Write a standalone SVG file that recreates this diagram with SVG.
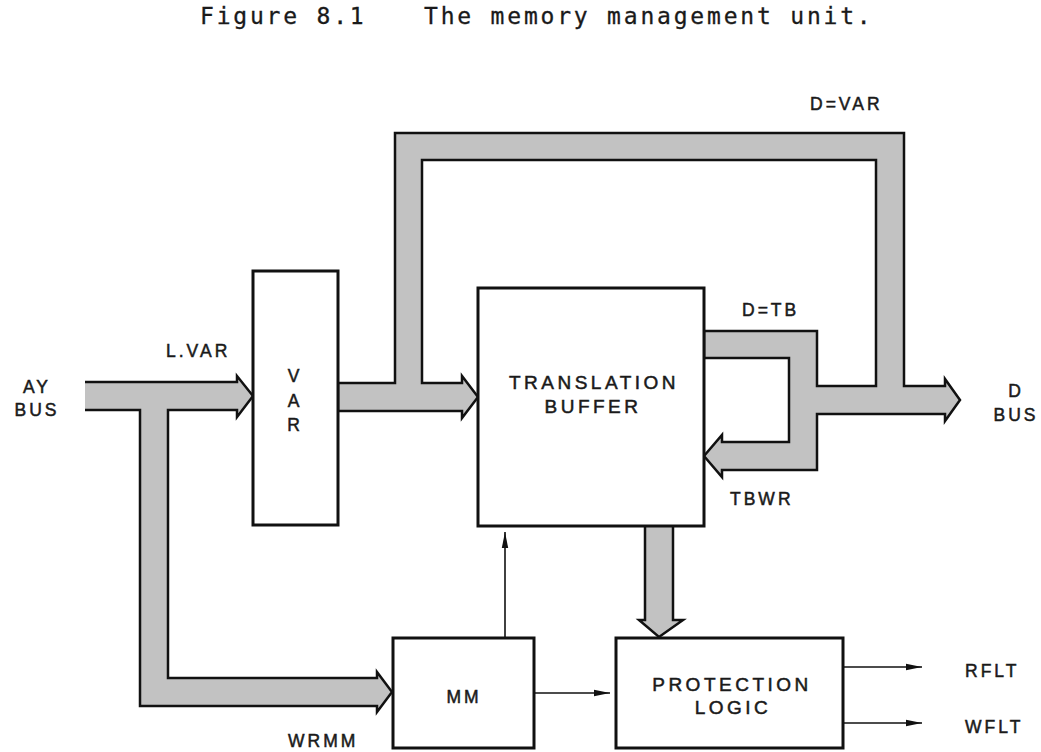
<svg xmlns="http://www.w3.org/2000/svg" width="1041" height="752" viewBox="0 0 1041 752">
<defs>
<style>
.box{fill:#fff;stroke:#111;stroke-width:3}
.bus{fill:#c2c2c2;stroke:#111;stroke-width:2.5;stroke-linejoin:miter}
.thin{fill:none;stroke:#111;stroke-width:1.6}
.lbl{font-family:"Liberation Sans",Arial,sans-serif;font-size:17.5px;letter-spacing:3px;fill:#1a1a1a;stroke:#1a1a1a;stroke-width:0.5}
.big{font-family:"Liberation Sans",Arial,sans-serif;font-size:19px;letter-spacing:3.5px;fill:#1a1a1a;stroke:#1a1a1a;stroke-width:0.5}
.title{font-family:"DejaVu Sans Mono",monospace;font-size:23px;letter-spacing:2.8px;fill:#1a1a1a;stroke:#1a1a1a;stroke-width:0.3}
</style>
<marker id="ah" viewBox="0 0 16 8" refX="16" refY="4" markerWidth="16" markerHeight="8" markerUnits="userSpaceOnUse" orient="auto">
<path d="M0,0.8 L16,4 L0,7.2 Z" fill="#111"/>
</marker>
</defs>
<rect width="1041" height="752" fill="#fff"/>
<text class="title" x="200" y="24">Figure 8.1</text>
<text class="title" x="424" y="24">The memory management unit.</text>

<g id="connectors">
<path id="ay-bus" class="bus" d="M85,382 L237,382 L237,376 L253,396 L237,417 L237,410 L168,410 L168,678 L377,678 L377,672 L392,692 L377,712 L377,706 L140,706 L140,410 L85,410"/>
<path id="data-bus" class="bus" d="M338,383 L395,383 L395,133 L904,133 L904,386 L945,386 L945,379 L960,400 L945,421 L945,414 L817,414 L817,470 L722,470 L722,477 L704,456 L722,435 L722,442 L789,442 L789,358 L704,358 L704,331 L817,331 L817,386 L876,386 L876,160 L422,160 L422,383 L462,383 L462,376 L478,397 L462,418 L462,411 L338,411 Z"/>
<path id="tb-pl-bus" class="bus" d="M645,526 L645,620 L639,620 L659,637 L683,620 L673,620 L673,526"/>
<line class="thin" x1="505" y1="638" x2="505" y2="532" marker-end="url(#ah)"/>
<line class="thin" x1="534" y1="693" x2="610" y2="693" marker-end="url(#ah)"/>
<line class="thin" x1="843" y1="667" x2="922" y2="667" marker-end="url(#ah)"/>
<line class="thin" x1="843" y1="723" x2="922" y2="723" marker-end="url(#ah)"/>
</g>

<g id="var">
<rect class="box" x="253" y="271" width="85" height="254"/>
<text class="lbl" x="295" y="382" text-anchor="middle" letter-spacing="0">V</text>
<text class="lbl" x="295" y="407" text-anchor="middle" letter-spacing="0">A</text>
<text class="lbl" x="295" y="431" text-anchor="middle" letter-spacing="0">R</text>
</g>
<g id="tb">
<rect class="box" x="478" y="288" width="226" height="238"/>
<text class="big" x="594" y="389" text-anchor="middle">TRANSLATION</text>
<text class="big" x="593" y="413" text-anchor="middle">BUFFER</text>
</g>
<g id="mm">
<rect class="box" x="393" y="638" width="141" height="110"/>
<text class="lbl" x="464" y="703" text-anchor="middle" letter-spacing="1">MM</text>
</g>
<g id="pl">
<rect class="box" x="616" y="638" width="227" height="110"/>
<text class="big" x="732" y="691" text-anchor="middle">PROTECTION</text>
<text class="big" x="733" y="714" text-anchor="middle">LOGIC</text>
</g>

<g id="labels">
<text class="lbl" x="37" y="393" text-anchor="middle">AY</text>
<text class="lbl" x="37" y="416" text-anchor="middle">BUS</text>
<text class="lbl" x="166" y="357" letter-spacing="1.5">L.VAR</text>
<text class="lbl" x="810" y="110">D=VAR</text>
<text class="lbl" x="742" y="316">D=TB</text>
<text class="lbl" x="730" y="505">TBWR</text>
<text class="lbl" x="1016" y="397" text-anchor="middle">D</text>
<text class="lbl" x="1016" y="421" text-anchor="middle">BUS</text>
<text class="lbl" x="965" y="677" font-size="19" letter-spacing="3.5">RFLT</text>
<text class="lbl" x="965" y="733" font-size="19" letter-spacing="3.5">WFLT</text>
<text class="lbl" x="288" y="747">WRMM</text>
</g>
</svg>
